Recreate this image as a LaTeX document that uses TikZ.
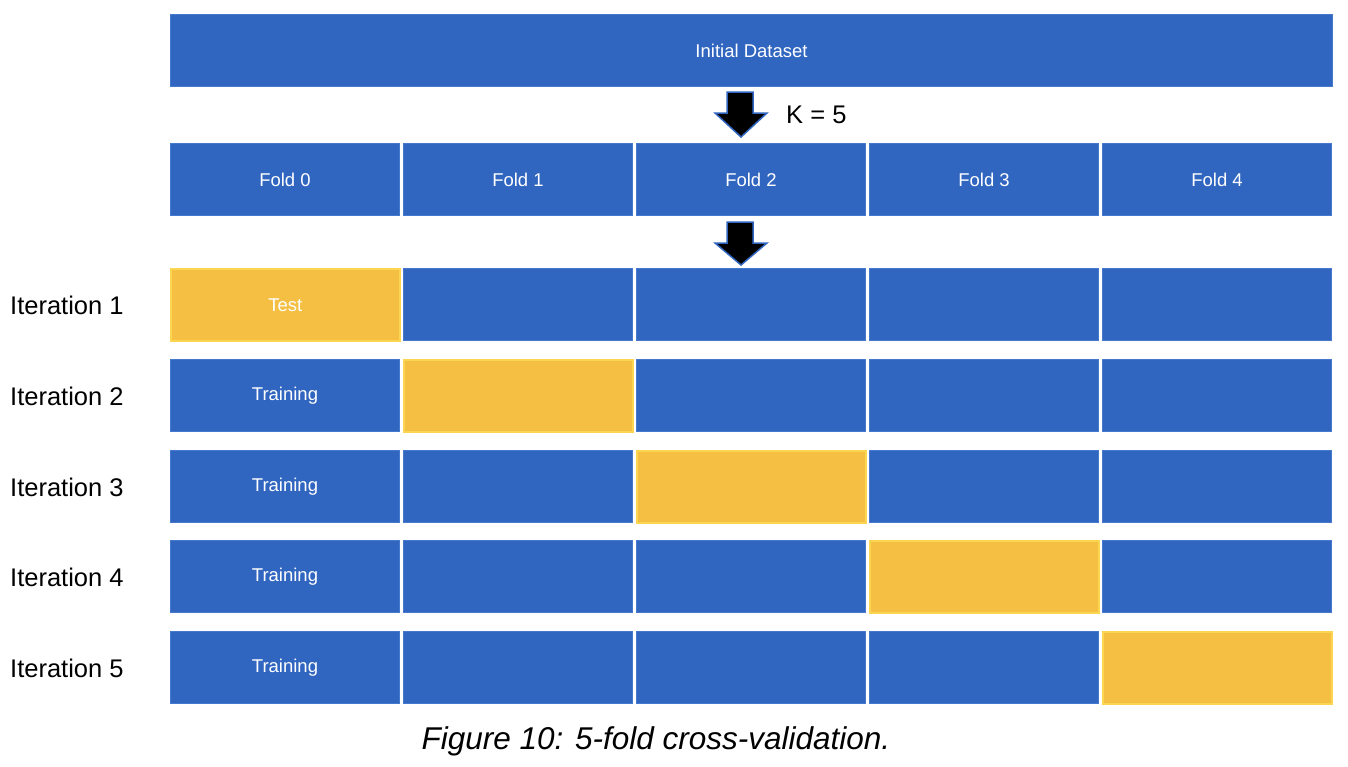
\documentclass[tikz,border=0pt]{standalone}
\usepackage{fontspec}
\setmainfont{Liberation Sans}
\begin{document}
\begin{tikzpicture}[x=1pt,y=-1pt,
  cell/.style={draw=cellblueedge,line width=1pt,fill=cellblue,minimum width=229pt,minimum height=72pt,inner sep=0pt,anchor=north west,text=white,font=\fontsize{18.5}{20}\selectfont},
  testcell/.style={cell,fill=cellyellow,draw=cellyellowedge,line width=1.5pt},
  rowlabel/.style={anchor=west,inner sep=0pt,font=\fontsize{25.5}{28}\selectfont},
  celltext/.style={text=white,font=\fontsize{18.5}{20}\selectfont},
  blockarrow/.style={fill=black,draw=cellblue,line width=1.5pt,line join=miter}
]
\definecolor{cellblue}{RGB}{48,101,192}
\definecolor{cellblueedge}{RGB}{70,120,205}
\definecolor{cellyellow}{RGB}{244,191,66}
\definecolor{cellyellowedge}{RGB}{252,214,80}
\useasboundingbox (0,0) rectangle (1348,766);
\fill[white] (0,0) rectangle (1348,766);

% initial dataset
\node[cell,minimum width=1162pt] (init) at (170,14) {Initial Dataset};

% arrow 1
\draw[blockarrow] (727,92) -- (753,92) -- (753,113) -- (767,113) -- (741,137) -- (715,113) -- (727,113) -- cycle;
\node[anchor=west,inner sep=0pt,font=\fontsize{25.5}{28}\selectfont] (k) at (786,115) {K = 5};

% folds
\foreach \i/\x in {0/170,1/403,2/636,3/869,4/1102}{
  \node[cell] (f\i) at (\x,143) {Fold \i};
}

% arrow 2
\draw[blockarrow] (727,222) -- (753,222) -- (753,243) -- (767,243) -- (741,265) -- (715,243) -- (727,243) -- cycle;

% iterations
\foreach \r/\y in {1/268,2/359,3/450,4/540,5/631}{
  \node[rowlabel] (it\r) at (10,\y+37) {Iteration \r};
  \foreach \c/\x in {1/170,2/403,3/636,4/869,5/1102}{
    \ifnum\c=\r
      \node[testcell] (c\r\c) at (\x,\y) {};
    \else
      \node[cell] (c\r\c) at (\x,\y) {};
    \fi
  }
}
\node[celltext] (test) at (c11) {Test};
\foreach \r in {2,3,4,5}{
  \node[celltext] (tr\r) at (c\r1) {Training};
}

% caption
\node[font=\itshape\fontsize{31.5}{34}\selectfont,inner sep=0pt] (cap) at (656,741) {Figure 10: 5-fold cross-validation.};
\end{tikzpicture}
\end{document}
